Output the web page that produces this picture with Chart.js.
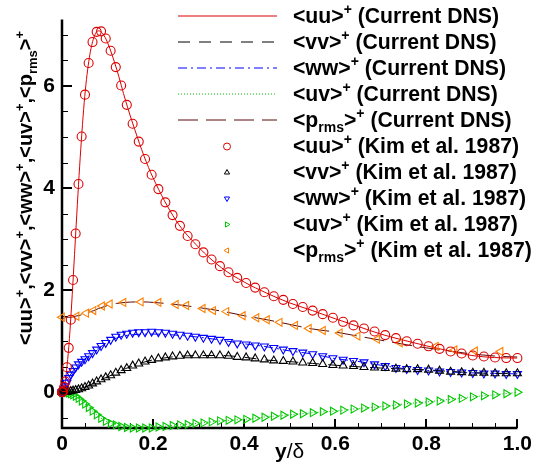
<!DOCTYPE html>
<html>
<head>
<meta charset="utf-8">
<script src="https://cdn.jsdelivr.net/npm/chart.js@4.4.0/dist/chart.umd.min.js"></script>
<style>
  html, body { margin: 0; padding: 0; background: #fff; }
</style>
</head>
<body>
<canvas id="myChart" width="536" height="473"></canvas>
<script>
// Kim et al. 1987 sample positions (y/delta) and profiles
const kimY = [0, 0.0003, 0.0012, 0.0027, 0.0048, 0.0075, 0.0108, 0.0147, 0.0192, 0.0243,
  0.0300, 0.0362, 0.0431, 0.0505, 0.0585, 0.0670, 0.0761, 0.0858, 0.0960, 0.1068,
  0.1181, 0.1299, 0.1423, 0.1551, 0.1685, 0.1824, 0.1968, 0.2117, 0.2270, 0.2428,
  0.2590, 0.2758, 0.2929, 0.3105, 0.3284, 0.3468, 0.3656, 0.3848, 0.4043, 0.4242,
  0.4444, 0.4650, 0.4859, 0.5071, 0.5286, 0.5504, 0.5724, 0.5948, 0.6173, 0.6401,
  0.6631, 0.6863, 0.7097, 0.7333, 0.7570, 0.7809, 0.8049, 0.8290, 0.8533, 0.8776,
  0.9020, 0.9264, 0.9509, 0.9755, 1.0];
const kimUU = [0, 0.0004, 0.006, 0.03, 0.1, 0.21, 0.49, 0.87, 1.42, 2.2,
  3.11, 4.08, 5.01, 5.83, 6.45, 6.86, 7.06, 7.07, 6.93, 6.69,
  6.37, 6.01, 5.63, 5.26, 4.91, 4.57, 4.26, 3.98, 3.72, 3.47,
  3.26, 3.06, 2.90, 2.74, 2.60, 2.47, 2.35, 2.24, 2.14, 2.05,
  1.96, 1.88, 1.81, 1.73, 1.67, 1.60, 1.53, 1.46, 1.38, 1.31,
  1.25, 1.19, 1.12, 1.06, 1.00, 0.95, 0.90, 0.85, 0.80, 0.76,
  0.72, 0.70, 0.68, 0.67, 0.67];
const kimVV = [0, 0, 0, 0.0002, 0.0007, 0.002, 0.005, 0.01, 0.02, 0.03,
  0.04, 0.055, 0.075, 0.10, 0.13, 0.17, 0.21, 0.25, 0.29, 0.33,
  0.38, 0.43, 0.47, 0.52, 0.56, 0.60, 0.63, 0.66, 0.68, 0.70,
  0.71, 0.72, 0.72, 0.72, 0.72, 0.72, 0.71, 0.69, 0.68, 0.66,
  0.64, 0.62, 0.61, 0.60, 0.58, 0.57, 0.55, 0.53, 0.52, 0.51,
  0.49, 0.48, 0.47, 0.46, 0.45, 0.45, 0.44, 0.42, 0.40, 0.39,
  0.38, 0.38, 0.37, 0.37, 0.37];
const kimWW = [0, 0.001, 0.01, 0.03, 0.07, 0.12, 0.19, 0.28, 0.35, 0.42,
  0.49, 0.55, 0.60, 0.65, 0.71, 0.77, 0.84, 0.91, 0.97, 1.03,
  1.09, 1.13, 1.15, 1.17, 1.18, 1.18, 1.19, 1.18, 1.17, 1.15,
  1.13, 1.11, 1.09, 1.07, 1.05, 1.03, 0.99, 0.96, 0.94, 0.92,
  0.90, 0.87, 0.84, 0.81, 0.78, 0.75, 0.71, 0.67, 0.64, 0.615,
  0.59, 0.55, 0.515, 0.48, 0.46, 0.44, 0.43, 0.41, 0.40, 0.39,
  0.38, 0.37, 0.37, 0.36, 0.36];
const kimUV = [0, 0, 0, -0.0001, -0.0005, -0.002, -0.006, -0.015, -0.03, -0.05,
  -0.08, -0.12, -0.17, -0.23, -0.30, -0.37, -0.44, -0.51, -0.57, -0.61,
  -0.64, -0.67, -0.69, -0.70, -0.70, -0.70, -0.70, -0.68, -0.67, -0.65,
  -0.64, -0.63, -0.61, -0.60, -0.58, -0.56, -0.55, -0.54, -0.53, -0.51,
  -0.49, -0.47, -0.45, -0.43, -0.42, -0.40, -0.38, -0.37, -0.35, -0.33,
  -0.31, -0.29, -0.27, -0.25, -0.23, -0.21, -0.19, -0.17, -0.14, -0.12,
  -0.09, -0.07, -0.05, -0.03, 0];
// p_rms from Kim et al. is sampled at its own positions
const kimPY = [0, 0.032, 0.053, 0.069, 0.088, 0.105, 0.135, 0.173, 0.212, 0.250,
  0.273, 0.309, 0.332, 0.361, 0.397, 0.427, 0.450, 0.478, 0.512, 0.542,
  0.573, 0.610, 0.649, 0.692, 0.742, 0.821, 0.862, 0.907, 0.963];
const kimPP = [1.47, 1.49, 1.55, 1.60, 1.69, 1.73, 1.76, 1.77, 1.76, 1.72,
  1.70, 1.64, 1.60, 1.58, 1.50, 1.46, 1.42, 1.37, 1.31, 1.25,
  1.21, 1.16, 1.10, 1.04, 0.97, 0.90, 0.83, 0.81, 0.80];

// current DNS profiles
const dnsY = [0, 0.0025, 0.005, 0.0075, 0.01, 0.015, 0.02, 0.025, 0.03, 0.04,
  0.05, 0.06, 0.07, 0.08, 0.09, 0.1, 0.12, 0.14, 0.16, 0.18,
  0.2, 0.25, 0.3, 0.35, 0.4, 0.45, 0.5, 0.55, 0.6, 0.65,
  0.7, 0.75, 0.8, 0.85, 0.9, 0.95, 1];
const dnsUU = [0, 0.02, 0.11, 0.22, 0.42, 0.9, 1.55, 2.3, 3.1, 4.6,
  5.8, 6.55, 6.95, 7.08, 7.02, 6.85, 6.33, 5.7, 5.14, 4.63,
  4.2, 3.37, 2.84, 2.44, 2.16, 1.94, 1.75, 1.60, 1.44, 1.29,
  1.14, 1.02, 0.91, 0.81, 0.72, 0.68, 0.67];
const dnsVV = [0, 0, 0.001, 0.002, 0.004, 0.01, 0.02, 0.03, 0.04, 0.065,
  0.10, 0.135, 0.18, 0.225, 0.265, 0.30, 0.385, 0.465, 0.53, 0.59,
  0.635, 0.70, 0.72, 0.72, 0.685, 0.63, 0.60, 0.565, 0.53, 0.50,
  0.475, 0.455, 0.44, 0.41, 0.385, 0.37, 0.37];
const dnsWW = [0, 0.02, 0.07, 0.12, 0.18, 0.29, 0.36, 0.43, 0.49, 0.585,
  0.65, 0.72, 0.79, 0.86, 0.92, 0.98, 1.06, 1.11, 1.13, 1.14,
  1.14, 1.12, 1.08, 1.02, 0.95, 0.89, 0.81, 0.75, 0.66, 0.605,
  0.53, 0.465, 0.43, 0.40, 0.38, 0.37, 0.36];
const dnsUV = [0, 0, -0.0005, -0.002, -0.005, -0.015, -0.03, -0.05, -0.08, -0.15,
  -0.23, -0.31, -0.39, -0.47, -0.53, -0.58, -0.645, -0.68, -0.70, -0.70,
  -0.69, -0.645, -0.605, -0.56, -0.53, -0.48, -0.44, -0.40, -0.365, -0.32,
  -0.28, -0.23, -0.19, -0.14, -0.09, -0.05, 0];
const dnsPP = [1.45, 1.45, 1.45, 1.46, 1.46, 1.47, 1.47, 1.48, 1.49, 1.51,
  1.54, 1.57, 1.60, 1.64, 1.67, 1.70, 1.74, 1.76, 1.77, 1.77,
  1.76, 1.72, 1.66, 1.59, 1.50, 1.42, 1.33, 1.24, 1.18, 1.10,
  1.02, 0.94, 0.87, 0.81, 0.75, 0.71, 0.69];

const stressNames = ['uu', 'vv', 'ww', 'uv', 'prms'];
const sources = ['Current DNS', 'Kim et al. 1987'];
const xTicks = [0, 0.2, 0.4, 0.6, 0.8, 1];
const yTicks = [0, 2, 4, 6];

const FAM = '"Liberation Sans", Arial, Helvetica, sans-serif';
const LEG = { big: 'bold 21.2px ' + FAM, small: 'bold 14px ' + FAM, up: 9, down: 5 };
const TTL = { big: 'bold 20px ' + FAM, small: 'bold 13px ' + FAM, up: 8, down: 5 };

function pts(xs, ys) {
  return xs.map((x, i) => ({ x: x, y: ys[i] }));
}

function lineSet(name, xs, ys, color, dash) {
  return {
    label: name, src: 0, data: pts(xs, ys), showLine: true,
    borderColor: color, borderWidth: 1, borderDash: dash,
    pointRadius: 0, cubicInterpolationMode: 'monotone', order: 2
  };
}

function markSet(name, xs, ys, color, style, rot) {
  return {
    label: name, src: 1, data: pts(xs, ys), showLine: false,
    borderColor: color, backgroundColor: 'rgba(0,0,0,0)',
    pointStyle: style, rotation: rot, pointRadius: style === 'circle' ? 4.5 : 4.6,
    pointBorderWidth: 1.1, clip: false, order: 1
  };
}

// rich text: '<uu>' + superscript '+', subscript 'rms'
function richParts(name, tail, s) {
  const parts = [];
  if (name === 'prms') {
    parts.push({ t: '<p', f: s.big }, { t: 'rms', f: s.small, dy: s.down }, { t: '>', f: s.big });
  } else {
    parts.push({ t: '<' + name + '>', f: s.big });
  }
  parts.push({ t: '+', f: s.small, dy: -s.up });
  if (tail) parts.push({ t: tail, f: s.big });
  return parts;
}

function richWidth(ctx, parts) {
  let w = 0;
  for (const p of parts) { ctx.font = p.f; w += ctx.measureText(p.t).width; }
  return w;
}

function drawRich(ctx, parts, x, y) {
  let cx = x;
  for (const p of parts) {
    ctx.font = p.f;
    ctx.fillText(p.t, cx, y + (p.dy || 0));
    cx += ctx.measureText(p.t).width;
  }
}

function marker(ctx, style, rot, r, x, y) {
  ctx.beginPath();
  if (style === 'circle') {
    ctx.arc(x, y, r, 0, Math.PI * 2);
  } else {
    let a = rot * Math.PI / 180;
    for (let k = 0; k < 3; k++) {
      const px = x + Math.sin(a) * r, py = y - Math.cos(a) * r;
      if (k === 0) ctx.moveTo(px, py); else ctx.lineTo(px, py);
      a += Math.PI * 2 / 3;
    }
    ctx.closePath();
  }
  ctx.stroke();
}

const tecplotFrame = {
  id: 'tecplotFrame',
  beforeDatasetsDraw(chart) {
    const { ctx, chartArea: a, scales: { x, y } } = chart;
    ctx.save();
    ctx.strokeStyle = '#000';
    // minor ticks
    ctx.lineWidth = 1;
    for (let v = 0.05; v < 1; v += 0.05) {
      const px = Math.round(x.getPixelForValue(v)) + 0.5;
      ctx.beginPath(); ctx.moveTo(px, a.bottom); ctx.lineTo(px, a.bottom - 5); ctx.stroke();
    }
    for (let v = -0.5; v < 7.3; v += 0.5) {
      const py = Math.round(y.getPixelForValue(v)) + 0.5;
      ctx.beginPath(); ctx.moveTo(a.left, py); ctx.lineTo(a.left + 6, py); ctx.stroke();
    }
    // major ticks
    ctx.lineWidth = 2;
    xTicks.forEach(v => {
      const px = Math.round(x.getPixelForValue(v));
      ctx.beginPath(); ctx.moveTo(px, a.bottom); ctx.lineTo(px, a.bottom - 9); ctx.stroke();
    });
    yTicks.forEach(v => {
      const py = Math.round(y.getPixelForValue(v));
      ctx.beginPath(); ctx.moveTo(a.left, py); ctx.lineTo(a.left + 10, py); ctx.stroke();
    });
    // axis lines
    ctx.lineWidth = 2.5;
    ctx.beginPath();
    ctx.moveTo(a.left, a.top);
    ctx.lineTo(a.left, a.bottom);
    ctx.lineTo(a.right, a.bottom);
    ctx.stroke();
    ctx.restore();
  },
  afterDraw(chart) {
    const { ctx, chartArea: a } = chart;
    ctx.save();
    ctx.fillStyle = '#000';
    ctx.textBaseline = 'alphabetic';

    // y axis title (rotated)
    const yParts = [];
    stressNames.forEach((n, i) => {
      yParts.push(...richParts(n, i < stressNames.length - 1 ? ',' : '', TTL));
    });
    ctx.save();
    ctx.translate(32, 188);
    ctx.rotate(-Math.PI / 2);
    drawRich(ctx, yParts, -richWidth(ctx, yParts) / 2, 0);
    ctx.restore();

    // x axis title
    const xParts = [{ t: 'y', f: 'bold 21px ' + FAM }, { t: '/δ', f: '21px ' + FAM }];
    drawRich(ctx, xParts, (a.left + a.right) / 2 - richWidth(ctx, xParts) / 2, 458);

    // legend
    chart.data.datasets.forEach((ds, i) => {
      const cy = 16 + 26 * i;
      ctx.save();
      ctx.strokeStyle = ds.borderColor;
      ctx.lineWidth = 1;
      if (ds.showLine) {
        ctx.setLineDash(ds.borderDash || []);
        ctx.beginPath(); ctx.moveTo(178, cy); ctx.lineTo(277, cy); ctx.stroke();
      } else {
        marker(ctx, ds.pointStyle, ds.rotation, ds.pointStyle === 'circle' ? 3.5 : 3, 227, cy + 0.5);
      }
      ctx.restore();
      drawRich(ctx, richParts(ds.label, ' (' + sources[ds.src] + ')', LEG), 293, cy + 7);
    });
    ctx.restore();
  }
};

const RED = 'rgb(220,0,0)';
const datasets = [
  lineSet('uu', dnsY, dnsUU, RED, []),
  lineSet('vv', dnsY, dnsVV, '#000000', [12, 9]),
  lineSet('ww', dnsY, dnsWW, '#0000ff', [9, 4, 2, 4]),
  lineSet('uv', dnsY, dnsUV, '#00c000', [1, 2]),
  lineSet('prms', dnsY, dnsPP, 'rgb(90,10,10)', [20, 8]),
  markSet('uu', kimY, kimUU, RED, 'circle', 0),
  markSet('vv', kimY, kimVV, '#000000', 'triangle', 0),
  markSet('ww', kimY, kimWW, '#0000ff', 'triangle', 180),
  markSet('uv', kimY, kimUV, '#00c800', 'triangle', 90),
  markSet('prms', kimPY, kimPP, 'rgb(255,128,0)', 'triangle', -90)
];

const tickFont = { family: FAM, size: 21, weight: 'bold' };

new Chart(document.getElementById('myChart'), {
  type: 'scatter',
  data: { datasets: datasets },
  options: {
    responsive: false,
    animation: false,
    devicePixelRatio: 1,
    layout: { padding: { left: 0, top: 12, right: 18, bottom: 0 } },
    plugins: { legend: { display: false }, tooltip: { enabled: false } },
    scales: {
      x: {
        type: 'linear', min: 0, max: 1,
        afterBuildTicks: s => { s.ticks = xTicks.map(v => ({ value: v })); },
        afterFit: s => { s.height = 45; },
        grid: { display: false, drawTicks: false },
        border: { display: false },
        ticks: { font: tickFont, color: '#000', padding: 4, maxRotation: 0 }
      },
      y: {
        type: 'linear', min: -0.7, max: 7.3,
        afterBuildTicks: s => { s.ticks = yTicks.map(v => ({ value: v })); },
        afterFit: s => { s.width = 62; },
        grid: { display: false, drawTicks: false },
        border: { display: false },
        ticks: { font: tickFont, color: '#000', padding: 7 }
      }
    }
  },
  plugins: [tecplotFrame]
});
</script>
</body>
</html>
